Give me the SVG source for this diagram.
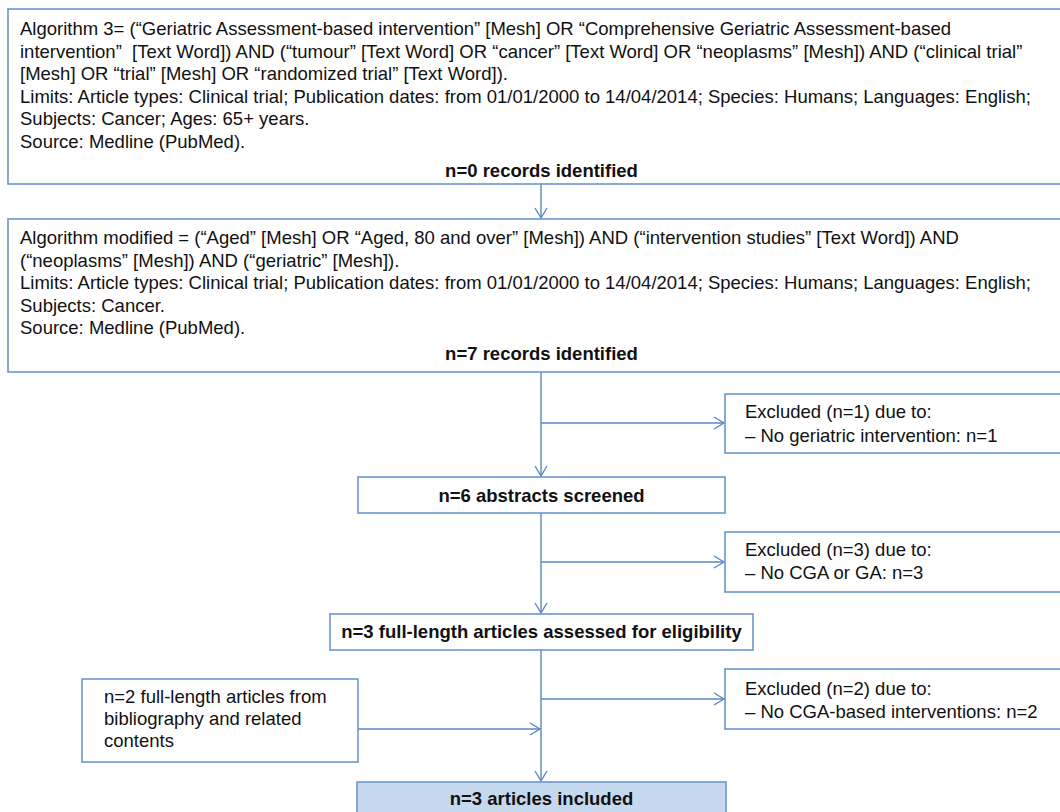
<svg xmlns="http://www.w3.org/2000/svg" width="1060" height="812" viewBox="0 0 1060 812">
<style>
  .box{fill:#ffffff;stroke:#6b96cd;stroke-width:1.6}
  .hl{fill:#c5d9ee;stroke:#6b96cd;stroke-width:1.6}
  .t{font-family:"Liberation Sans",Arial,sans-serif;font-size:18.5px;fill:#111111;white-space:pre}
  .b{font-family:"Liberation Sans",Arial,sans-serif;font-size:18.5px;font-weight:bold;fill:#111111;text-anchor:middle}
  .c{fill:none;stroke:#5a87c3;stroke-width:1.4}
</style>
<defs>
  <marker id="ah" markerUnits="userSpaceOnUse" markerWidth="14" markerHeight="16" refX="11" refY="7" orient="auto">
    <path d="M1,1 L11,7 L1,13" fill="none" stroke="#5a87c3" stroke-width="1.4"/>
  </marker>
</defs>
<rect width="1060" height="812" fill="#ffffff"/>

<g id="connectors">
  <line class="c" x1="541" y1="184" x2="541" y2="218" marker-end="url(#ah)"/>
  <line class="c" x1="541" y1="372" x2="541" y2="476" marker-end="url(#ah)"/>
  <line class="c" x1="541" y1="423" x2="724" y2="423" marker-end="url(#ah)"/>
  <line class="c" x1="541" y1="513" x2="541" y2="613" marker-end="url(#ah)"/>
  <line class="c" x1="541" y1="562" x2="724" y2="562" marker-end="url(#ah)"/>
  <line class="c" x1="541" y1="650" x2="541" y2="781" marker-end="url(#ah)"/>
  <line class="c" x1="541" y1="699" x2="724" y2="699" marker-end="url(#ah)"/>
  <line class="c" x1="358" y1="729" x2="540" y2="729" marker-end="url(#ah)"/>
</g>

<g id="algorithm3">
  <rect class="box" x="8" y="9" width="1070" height="175"/>
  <text class="t" x="20" y="35">Algorithm 3= (“Geriatric Assessment-based intervention” [Mesh] OR “Comprehensive Geriatric Assessment-based</text>
  <text class="t" x="20" y="57.6">intervention”  [Text Word]) AND (“tumour” [Text Word] OR “cancer” [Text Word] OR “neoplasms” [Mesh]) AND (“clinical trial”</text>
  <text class="t" x="20" y="80.2">[Mesh] OR “trial” [Mesh] OR “randomized trial” [Text Word]).</text>
  <text class="t" x="20" y="102.8">Limits: Article types: Clinical trial; Publication dates: from 01/01/2000 to 14/04/2014; Species: Humans; Languages: English;</text>
  <text class="t" x="20" y="125.4">Subjects: Cancer; Ages: 65+ years.</text>
  <text class="t" x="20" y="148">Source: Medline (PubMed).</text>
  <text class="b" x="541.5" y="176.5">n=0 records identified</text>
</g>

<g id="algorithm-modified">
  <rect class="box" x="8" y="219" width="1070" height="153"/>
  <text class="t" x="20" y="244">Algorithm modified = (“Aged” [Mesh] OR “Aged, 80 and over” [Mesh]) AND (“intervention studies” [Text Word]) AND</text>
  <text class="t" x="20" y="266.5">(“neoplasms” [Mesh]) AND (“geriatric” [Mesh]).</text>
  <text class="t" x="20" y="289">Limits: Article types: Clinical trial; Publication dates: from 01/01/2000 to 14/04/2014; Species: Humans; Languages: English;</text>
  <text class="t" x="20" y="311.5">Subjects: Cancer.</text>
  <text class="t" x="20" y="334">Source: Medline (PubMed).</text>
  <text class="b" x="541.5" y="360">n=7 records identified</text>
</g>

<g id="excluded1">
  <rect class="box" x="725" y="394" width="350" height="59"/>
  <text class="t" x="745" y="418">Excluded (n=1) due to:</text>
  <text class="t" x="745" y="441.5">– No geriatric intervention: n=1</text>
</g>

<g id="abstracts">
  <rect class="box" x="358" y="477" width="367" height="36"/>
  <text class="b" x="541.5" y="501.5">n=6 abstracts screened</text>
</g>

<g id="excluded2">
  <rect class="box" x="725" y="532" width="350" height="60"/>
  <text class="t" x="745" y="555.5">Excluded (n=3) due to:</text>
  <text class="t" x="745" y="578.5">– No CGA or GA: n=3</text>
</g>

<g id="fulllength">
  <rect class="box" x="330" y="614" width="423" height="36"/>
  <text class="b" x="541.5" y="638">n=3 full-length articles assessed for eligibility</text>
</g>

<g id="excluded3">
  <rect class="box" x="725" y="669" width="350" height="60"/>
  <text class="t" x="745" y="695">Excluded (n=2) due to:</text>
  <text class="t" x="745" y="717.5">– No CGA-based interventions: n=2</text>
</g>

<g id="bibliography">
  <rect class="box" x="82" y="679" width="276" height="83"/>
  <text class="t" x="104" y="703.3">n=2 full-length articles from</text>
  <text class="t" x="104" y="725">bibliography and related</text>
  <text class="t" x="104" y="746.7">contents</text>
</g>

<g id="included">
  <rect class="hl" x="357" y="782" width="369" height="40"/>
  <text class="b" x="541.5" y="805">n=3 articles included</text>
</g>
</svg>
